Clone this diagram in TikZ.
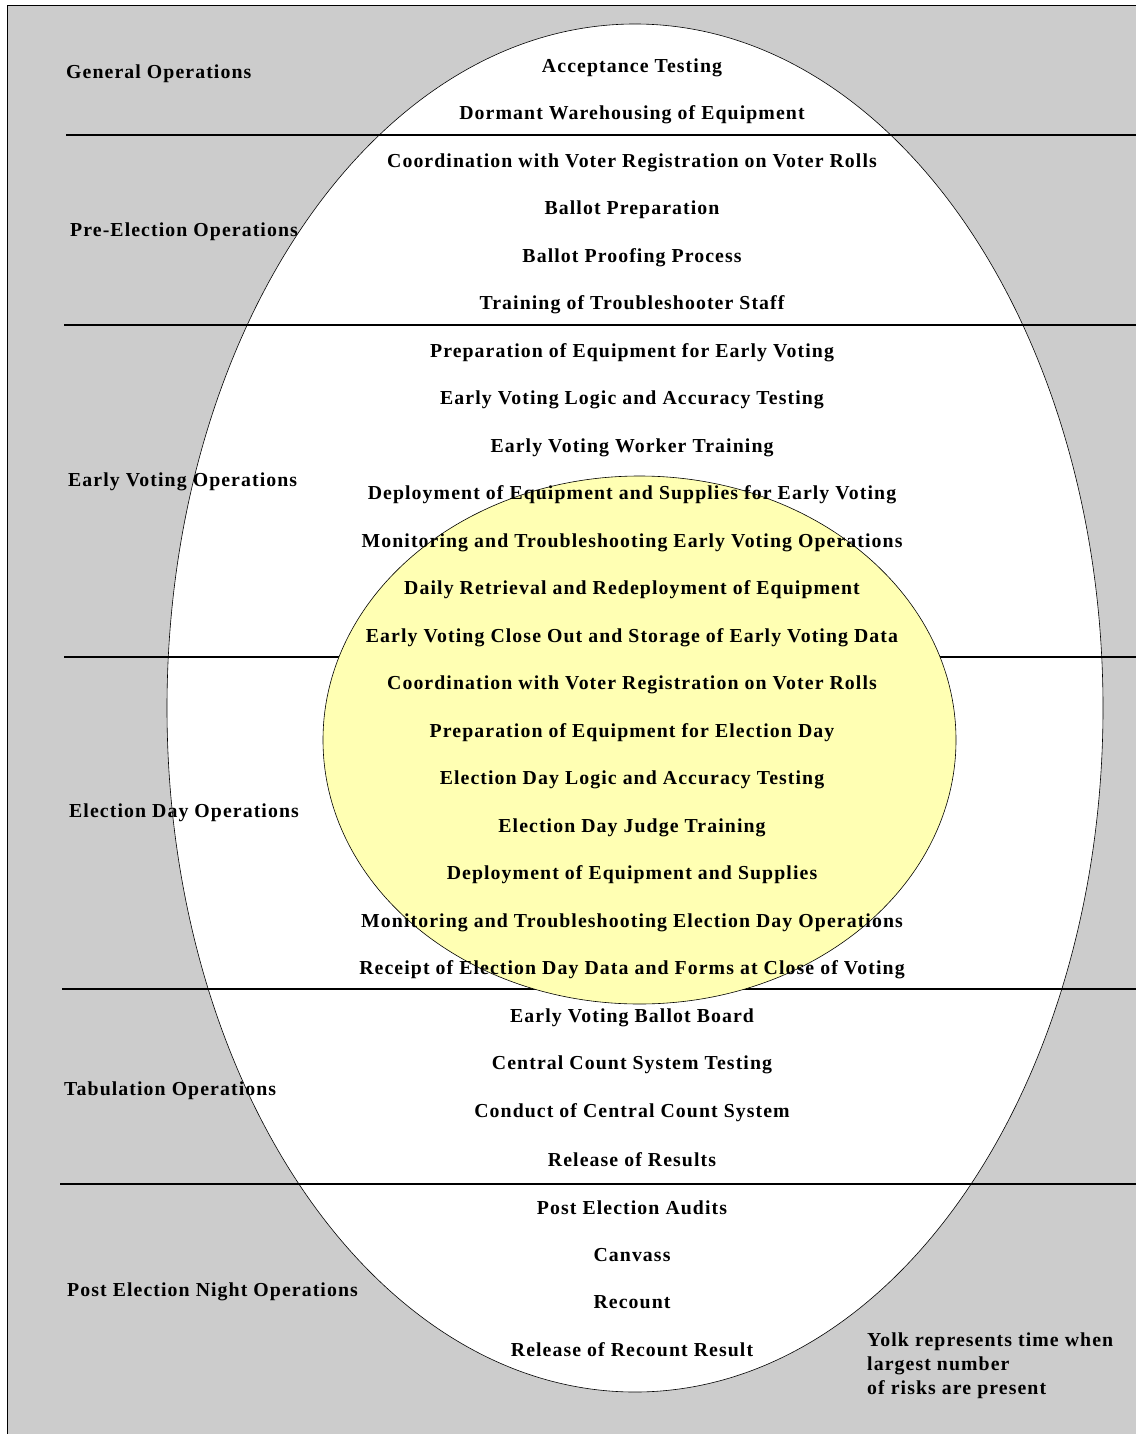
\documentclass[tikz,border=0pt]{standalone}
\usepackage{fontspec}
\setmainfont{Liberation Serif}[LetterSpace=5.5]
\definecolor{backgray}{RGB}{204,204,204}
\definecolor{yolkyellow}{RGB}{255,255,179}
\tikzset{
  stage/.style={font=\bfseries\fontsize{19.8}{24}\selectfont, inner sep=0pt},
  task/.style={stage, anchor=center},
  phase/.style={stage, anchor=west},
  divider/.style={line width=2.2pt},
}
\begin{document}
\begin{tikzpicture}[x=1pt,y=-1pt]
      \useasboundingbox (0,0) rectangle (1136,1434);
      \fill[backgray] (7.5,5.5) rectangle (1136,1434);
      \draw[line width=0.8pt] (7.5,1434) -- (7.5,5.5) -- (1136,5.5);
      % egg white
      \draw[fill=white, line width=0.6pt] (635,708) ellipse [x radius=468pt, y radius=684pt];
      % phase dividers
      \draw[divider] (66,135) -- (1136,135);
      \draw[divider] (64,325) -- (1136,325);
      \draw[divider] (64,657) -- (1136,657);
      \draw[divider] (62,989) -- (1136,989);
      \draw[divider] (60,1184) -- (1136,1184);
      % yolk
      \draw[fill=yolkyellow, line width=0.6pt] (639.5,740) ellipse [x radius=316.5pt, y radius=264pt];
      % phases
      \node[phase] (general) at (66,74) {General Operations};
      \node[phase] (pre) at (70,232) {Pre-Election Operations};
      \node[phase] (early) at (68,482) {Early Voting Operations};
      \node[phase] (eday) at (69,813) {Election Day Operations};
      \node[phase] (tab) at (64,1091) {Tabulation Operations};
      \node[phase] (post) at (67,1292) {Post Election Night Operations};
      % tasks
      \foreach \txt [count=\i from 0] in {
          Acceptance Testing,
          Dormant Warehousing of Equipment,
          Coordination with Voter Registration on Voter Rolls,
          Ballot Preparation,
          Ballot Proofing Process,
          Training of Troubleshooter Staff,
          Preparation of Equipment for Early Voting,
          Early Voting Logic and Accuracy Testing,
          Early Voting Worker Training,
          Deployment of Equipment and Supplies for Early Voting,
          Monitoring and Troubleshooting Early Voting Operations,
          Daily Retrieval and Redeployment of Equipment,
          Early Voting Close Out and Storage of Early Voting Data,
          Coordination with Voter Registration on Voter Rolls,
          Preparation of Equipment for Election Day,
          Election Day Logic and Accuracy Testing,
          Election Day Judge Training,
          Deployment of Equipment and Supplies,
          Monitoring and Troubleshooting Election Day Operations,
          Receipt of Election Day Data and Forms at Close of Voting,
          Early Voting Ballot Board,
          Central Count System Testing,
          Conduct of Central Count System,
          Release of Results,
          Post Election Audits,
          Canvass,
          Recount,
          Release of Recount Result}
        \node[task] (task\i) at (632,67.5+47.5*\i) {\txt};
      % legend
      \node[stage, anchor=north west, align=left] (yolknote) at (867,1333)
        {Yolk represents time when\\largest number\\of risks are present};
    \end{tikzpicture}
\end{document}
